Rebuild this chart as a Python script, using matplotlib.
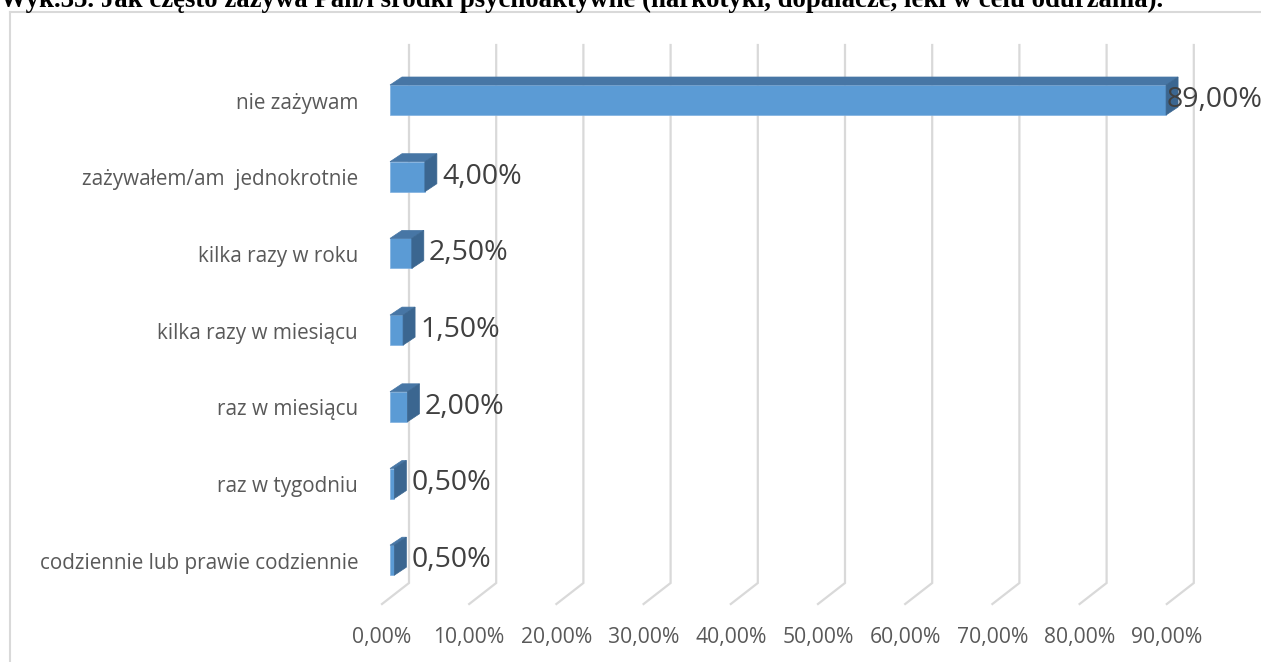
import matplotlib as mpl
mpl.use('Agg')
import matplotlib.pyplot as plt
from matplotlib.patches import Rectangle, Polygon
from matplotlib.lines import Line2D

categories = ["nie zażywam", "zażywałem/am  jednokrotnie", "kilka razy w roku",
              "kilka razy w miesiącu", "raz w miesiącu", "raz w tygodniu",
              "codziennie lub prawie codziennie"]
values = [89.0, 4.0, 2.5, 1.5, 2.0, 0.5, 0.5]
ticks = [0, 10, 20, 30, 40, 50, 60, 70, 80, 90]
title = "Wyk.35. Jak często zażywa Pan/i środki psychoaktywne (narkotyki, dopalacze, leki w celu odurzania)."

W, H = 1261, 662
X0, PX = 390.0, 8.72    # pixel of 0 %, pixels per %
Y0, PY = 100.0, 76.7    # pixel of first category centre, pixels per category

fig = plt.figure(figsize=(W / 100, H / 100), dpi=100)
ax = fig.add_axes([0, 0, 1, 1])
ax.set_xlim(-X0 / PX, (W - X0) / PX)
ax.set_ylim((H - Y0) / PY, -Y0 / PY)
ax.axis('off')

def px(p):
    return p / PX

def py(p):
    return p / PY

grid_c = '#d9d9d9'
# frame of the chart area
fig.add_artist(Line2D([10 / W, 10 / W], [0, 1 - 12 / H], color=grid_c, lw=1.5))
fig.add_artist(Line2D([10 / W, 1], [1 - 12 / H, 1 - 12 / H], color=grid_c, lw=1.5))

# back wall gridlines + floor diagonals
y_top = py(45 - Y0)
y_back = py(583 - Y0)
y_front = py(604 - Y0)
for t in ticks:
    xb = t + px(19)
    xf = t - px(8)
    ax.plot([xb, xb, xf], [y_top, y_back, y_front], color=grid_c, lw=1.6,
            solid_joinstyle='miter', zorder=1)
    ax.text(xf, py(637 - Y0), ("%.2f%%" % t).replace('.', ','), ha='center', va='center',
            fontsize=15.2, color='#595959', family='Open Sans')

# 3D bars
bh = py(30)
dx, dy = px(12), py(-8)
front_c, top_c, side_c = '#5b9bd5', '#4776a5', '#3b6690'
for i, v in enumerate(values):
    y0 = i - bh / 2
    y1 = i + bh / 2
    ax.add_patch(Rectangle((0, y0), v, bh, facecolor=front_c, edgecolor='#7fb0e0', lw=0.5, zorder=3))
    ax.add_patch(Polygon([(0, y0), (v, y0), (v + dx, y0 + dy), (dx, y0 + dy)],
                         closed=True, facecolor=top_c, edgecolor=top_c, lw=0.5, zorder=3))
    ax.add_patch(Polygon([(v, y0), (v + dx, y0 + dy), (v + dx, y1 + dy), (v, y1)],
                         closed=True, facecolor=side_c, edgecolor=side_c, lw=0.5, zorder=3))
    lab = ("%.2f%%" % v).replace('.', ',')
    xl = v + dx + px(5)
    if xl + px(95) > ax.get_xlim()[1]:
        ax.text(ax.get_xlim()[1] + px(2), i, lab, ha='right', va='center', fontsize=20.5,
                color='#404040', family='Open Sans', zorder=4)
    else:
        ax.text(xl, i, lab, ha='left', va='center', fontsize=20.5,
                color='#404040', family='Open Sans', zorder=4)
    ax.text(-px(32), i + py(3), categories[i], ha='right', va='center', fontsize=14.9,
            color='#595959', family='Open Sans')

fig.text(0, 1 - 7 / H, title, ha='left', va='baseline', fontsize=19.3,
         fontweight='bold', family='Liberation Serif', color='black')

fig.savefig('out.png', dpi=100)
